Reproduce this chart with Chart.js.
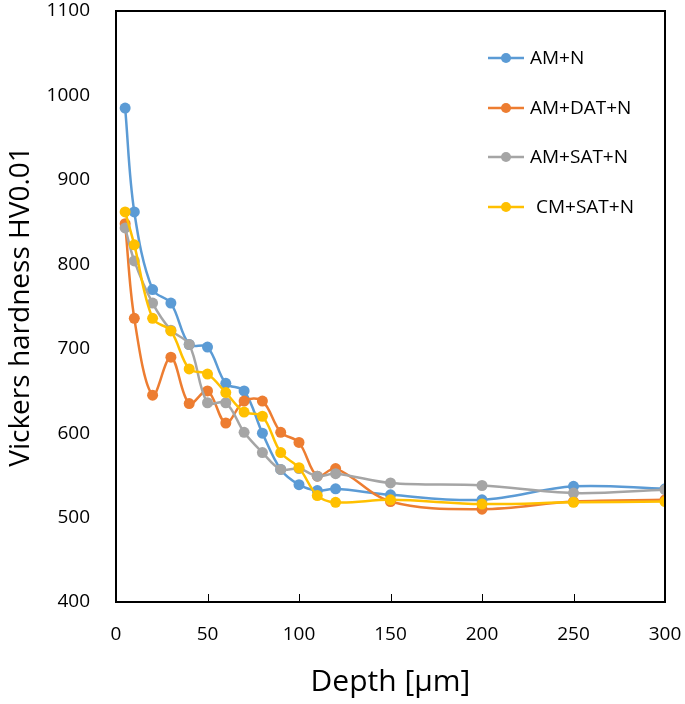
<!DOCTYPE html>
<html>
<head>
<meta charset="utf-8">
<script src="https://cdn.jsdelivr.net/npm/chart.js@4"></script>
<style>
  html, body { margin: 0; padding: 0; background: #fff; }
  #wrap { width: 685px; height: 704px; }
</style>
</head>
<body>
<div id="wrap"><canvas id="c" width="685" height="704"></canvas></div>
<script>
const depth = [5, 10, 20, 30, 40, 50, 60, 70, 80, 90, 100, 110, 120, 150, 200, 250, 300];
const amN = [985, 862, 770, 754, 705, 702, 659, 650, 600, 557, 539, 532, 534, 527, 521, 537, 534];
const amDatN = [848, 736, 645, 690, 635, 650, 612, 638, 638, 601, 589, 549, 558, 519, 510, 519, 521];
const amSatN = [843, 804, 754, 722, 705, 636, 636, 601, 577, 557, 558, 549, 552, 541, 538, 529, 533];
const cmSatN = [862, 823, 736, 721, 676, 670, 648, 625, 620, 577, 559, 526, 518, 521, 516, 518, 519];
const seriesNames = ['AM+N', 'AM+DAT+N', 'AM+SAT+N', 'CM+SAT+N'];
const colors = ['#5B9BD5', '#ED7D31', '#A5A5A5', '#FFC000'];
const xTicks = [0, 50, 100, 150, 200, 250, 300];

const FONT = "'Open Sans', sans-serif";

function pts(vals) {
    return depth.map((d, i) => ({ x: d, y: vals[i] }));
}

const allSeries = [amN, amDatN, amSatN, cmSatN];
const datasets = allSeries.map((vals, i) => ({
    label: seriesNames[i],
    data: pts(vals),
    borderColor: colors[i],
    backgroundColor: colors[i],
    borderWidth: 2.5,
    pointRadius: 5.5,
    pointHoverRadius: 5.5,
    pointBorderWidth: 0,
    tension: 0.35,
    order: 4 - i
}));

// box around plot + small inward ticks on the x axis
const boxPlugin = {
    id: 'box',
    afterDraw(chart) {
        const { ctx, chartArea: a, scales } = chart;
        ctx.save();
        ctx.strokeStyle = '#000';
        ctx.lineWidth = 2;
        ctx.strokeRect(a.left, a.top, a.right - a.left, a.bottom - a.top);
        ctx.lineWidth = 1;
        xTicks.slice(1, -1).forEach(v => {
            const px = Math.round(scales.x.getPixelForValue(v)) + 0.5;
            ctx.beginPath();
            ctx.moveTo(px, a.bottom);
            ctx.lineTo(px, a.bottom - 8);
            ctx.stroke();
        });
        ctx.restore();
    }
};

// legend drawn inside the plot, top right
const legendPlugin = {
    id: 'innerLegend',
    afterDatasetsDraw(chart) {
        const { ctx } = chart;
        const rowsY = [58, 108, 157, 207];
        ctx.save();
        chart.data.datasets.forEach((ds, i) => {
            const y = rowsY[i];
            ctx.strokeStyle = ds.borderColor;
            ctx.fillStyle = ds.borderColor;
            ctx.lineWidth = 2.5;
            ctx.beginPath();
            ctx.moveTo(488, y);
            ctx.lineTo(524, y);
            ctx.stroke();
            ctx.beginPath();
            ctx.arc(506, y, 5, 0, Math.PI * 2);
            ctx.fill();
            ctx.fillStyle = '#000';
            ctx.font = '19px ' + FONT;
            ctx.textBaseline = 'middle';
            ctx.fillText(ds.label, i === 3 ? 536 : 530, y + 1);
        });
        ctx.restore();
    }
};

new Chart(document.getElementById('c'), {
    type: 'line',
    data: { datasets },
    options: {
        responsive: false,
        animation: false,
        layout: { padding: { top: 11, right: 20, left: 0, bottom: 0 } },
        plugins: { legend: { display: false }, tooltip: { enabled: false } },
        scales: {
            x: {
                type: 'linear',
                min: 0, max: 300,
                afterBuildTicks(s) { s.ticks = xTicks.map(v => ({ value: v })); },
                grid: { display: false },
                border: { display: false },
                ticks: { color: '#000', font: { family: FONT, size: 19 }, padding: 13, maxRotation: 0, callback: v => String(v) },
                title: { display: true, text: 'Depth [μm]', color: '#000', font: { family: FONT, size: 30 }, padding: { top: 10 } },
                afterFit(s) { s.height = 102; s.paddingLeft = 0; s.paddingRight = 0; }
            },
            y: {
                min: 400, max: 1100,
                ticks: { stepSize: 100, color: '#000', font: { family: FONT, size: 19 }, padding: 18, callback: v => String(v) },
                grid: { display: false },
                border: { display: false },
                title: { display: true, text: 'Vickers hardness HV0.01', color: '#000', font: { family: FONT, size: 28 }, padding: { bottom: 4 } },
                afterFit(s) { s.width = 116; s.paddingTop = 0; s.paddingBottom = 0; }
            }
        }
    },
    plugins: [boxPlugin, legendPlugin]
});
</script>
</body>
</html>
